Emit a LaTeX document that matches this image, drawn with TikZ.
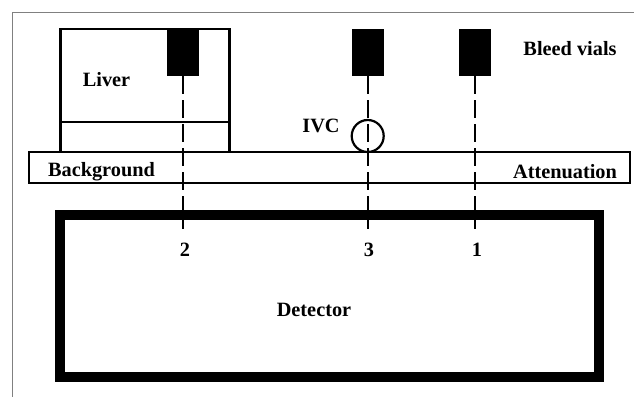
\documentclass[tikz,border=0pt]{standalone}
\usepackage{fontspec}
\setmainfont{Liberation Serif}
\usepackage{tikz}
\usetikzlibrary{positioning}
\tikzset{
  box/.style={draw,line width=2.2,inner sep=0,outer sep=0},
  vial/.style={fill=black,inner sep=0,outer sep=0,minimum width=32,minimum height=47},
  lab/.style={font=\bfseries\fontsize{20.3}{22}\selectfont,inner sep=0},
  ray/.style={line width=2.2,dash pattern=on 18 off 6}
}
\begin{document}
\begin{tikzpicture}[x=1pt,y=-1pt]
\useasboundingbox (0,0) rectangle (634,397);
\coordinate (frametr) at (634,12.5);
\coordinate (frametl) at (12.5,12.5);
\coordinate (framebl) at (12.5,397);
\draw[gray,line width=1] (frametr)--(frametl)--(framebl);
\node[box,minimum width=169,minimum height=123] (liver) at (145,90.5) {};
\node[box,minimum width=601,minimum height=31] (band) at (329.5,167.5) {};
\node[box,line width=10,minimum width=539,minimum height=162] (detector) at (329.5,296) {};
\node[draw,shape=circle,line width=2.2,inner sep=0,minimum size=32] (ivc) at (367.7,136) {};
\coordinate (split) at (60.5,122);
\draw[line width=2.2] (split)--(split-|liver.east);
\node[vial] (vial2) at (183,52.5) {};
\node[vial] (vial3) at (367.7,52.5) {};
\node[vial] (vial1) at (475,52.5) {};
\coordinate (end2) at (183,229);
\coordinate (end3) at (367.7,229);
\coordinate (end1) at (475,229);
\draw[ray] (vial2)--(end2);
\draw[ray] (vial3)--(end3);
\draw[ray] (vial1)--(end1);
\node[lab] (liverlab) at (106.5,80) {Liver};
\node[lab] (bleedlab) at (570,49) {Bleed vials};
\node[lab] (ivclab) at (321,126) {IVC};
\node[lab] (backlab) at (101.5,172) {Background};
\node[lab] (attlab) at (565,172) {Attenuation};
\node[lab] (num2) at (185,250) {2};
\node[lab] (num3) at (369,250) {3};
\node[lab] (num1) at (477,250) {1};
\node[lab] (detlab) at (314,310) {Detector};
\end{tikzpicture}
\end{document}
